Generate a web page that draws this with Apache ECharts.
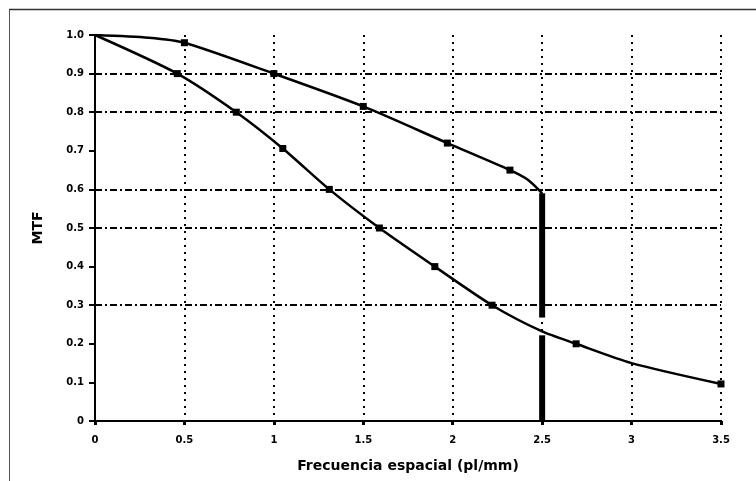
<!DOCTYPE html>
<html>
<head>
<meta charset="utf-8">
<script src="https://cdn.jsdelivr.net/npm/echarts@6/dist/echarts.min.js"></script>
<style>
  html, body { margin: 0; padding: 0; background: #fff; }
  #chart { width: 756px; height: 481px; }
</style>
</head>
<body>
<div id="chart"></div>
<script>
// upper curve (ends at 2.5, then drops)
const freqA = [0, 0.3, 0.5, 1.0, 1.5, 1.97, 2.32, 2.42, 2.5];
const mtfA = [1.0, 0.993, 0.98, 0.9, 0.815, 0.72, 0.65, 0.625, 0.59];
const markA = [false, false, true, true, true, true, true, false, false];

// lower curve
const freqB = [0, 0.46, 0.79, 1.05, 1.31, 1.59, 1.9, 2.22, 2.5, 2.69, 3.0, 3.5];
const mtfB = [1.0, 0.9, 0.8, 0.706, 0.6, 0.5, 0.4, 0.3, 0.232, 0.2, 0.15, 0.096];
const markB = [false, true, true, true, true, true, true, true, false, true, false, true];

// cut-off bar at 2.5 (broken where the lower curve crosses)
const cutX = 2.5;
const cutSegments = [[0, 0.222], [0.268, 0.59]];

// horizontal grid lines visible in the picture
const gridY = [0.9, 0.8, 0.6, 0.5, 0.3];

const xTicks = ['0', '0.5', '1', '1.5', '2', '2.5', '3', '3.5'];
const yTicks = ['0', '0.1', '0.2', '0.3', '0.4', '0.5', '0.6', '0.7', '0.8', '0.9', '1.0'];

const FONT = '"DejaVu Sans", "Liberation Sans", sans-serif';

const toData = (xs, ys, marks) => xs.map((x, i) => ({
  value: [x, ys[i]],
  symbol: marks[i] ? 'rect' : 'none',
  symbolSize: marks[i] ? 7 : 0,
}));

const chart = echarts.init(document.getElementById('chart'), null, { renderer: 'canvas' });

const option = {
  animation: false,
  backgroundColor: '#fff',
  grid: { left: 95, right: 35, top: 35, bottom: 60, containLabel: false },
  xAxis: {
    type: 'value',
    min: 0,
    max: 3.5,
    interval: 0.5,
    axisLine: { show: true, lineStyle: { color: '#000', width: 2 } },
    axisTick: { show: true, length: 4, lineStyle: { color: '#000', width: 3 } },
    axisLabel: {
      color: '#000', fontFamily: FONT, fontSize: 10, fontWeight: 'bold', margin: 14,
      formatter: (v) => xTicks[Math.round(v * 2)] ?? '',
    },
    splitLine: { show: true, lineStyle: { color: '#000', width: 2, type: [2, 5] } },
    name: 'Frecuencia espacial (pl/mm)',
    nameLocation: 'middle',
    nameGap: 38,
    nameTextStyle: { color: '#000', fontFamily: FONT, fontSize: 14, fontWeight: 'bold' },
  },
  yAxis: {
    type: 'value',
    min: 0,
    max: 1,
    interval: 0.1,
    axisLine: { show: true, lineStyle: { color: '#000', width: 2 } },
    axisTick: { show: true, length: 6, lineStyle: { color: '#000', width: 2 } },
    axisLabel: {
      color: '#000', fontFamily: FONT, fontSize: 10, fontWeight: 'bold', margin: 11,
      formatter: (v) => yTicks[Math.round(v * 10)] ?? '',
    },
    splitLine: { show: false },
    name: 'MTF',
    nameLocation: 'middle',
    nameGap: 50,
    nameTextStyle: { color: '#000', fontFamily: FONT, fontSize: 14, fontWeight: 'bold' },
  },
  graphic: [
    { type: 'line', shape: { x1: 9.5, y1: 9, x2: 9.5, y2: 481 }, style: { stroke: '#555', lineWidth: 1 } },
    { type: 'line', shape: { x1: 9, y1: 9.5, x2: 756, y2: 9.5 }, style: { stroke: '#333', lineWidth: 1.5 } },
  ],
  series: [
    {
      type: 'line',
      data: [],
      markLine: {
        silent: true,
        symbol: 'none',
        label: { show: false },
        lineStyle: { color: '#000', width: 2, type: [7, 3, 2, 3] },
        data: gridY.map((y) => ({ yAxis: y })),
      },
    },
    {
      type: 'line',
      smooth: 0.25,
      data: toData(freqA, mtfA, markA),
      lineStyle: { color: '#000', width: 2.5 },
      itemStyle: { color: '#000' },
    },
    {
      type: 'line',
      smooth: 0.25,
      data: toData(freqB, mtfB, markB),
      lineStyle: { color: '#000', width: 2.5 },
      itemStyle: { color: '#000' },
    },
    ...cutSegments.map(([y0, y1]) => ({
      type: 'line',
      data: [[cutX, y0], [cutX, y1]],
      symbol: 'none',
      lineStyle: { color: '#000', width: 6, cap: 'butt' },
    })),
  ],
};

chart.setOption(option);
</script>
</body>
</html>
